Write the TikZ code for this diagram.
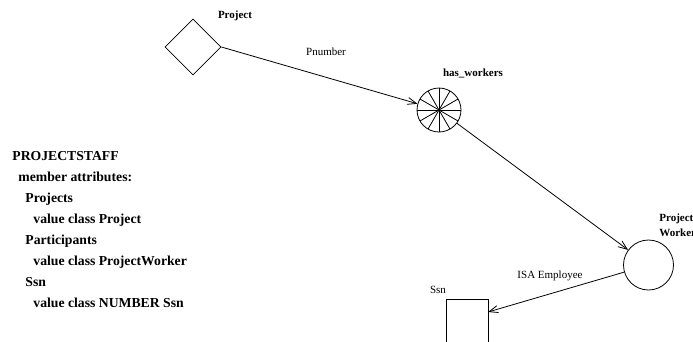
\documentclass[tikz,border=0pt]{standalone}
\usepackage{fontspec}
\setmainfont{Liberation Serif}
\usetikzlibrary{arrows.meta,shapes.geometric}
\begin{document}
\begin{tikzpicture}[x=1pt,y=-1pt,
  line width=0.8pt,
  conn/.style={draw,-{Straight Barb[length=9pt,width=7pt,line width=0.8pt]}},
  lbl/.style={inner sep=0pt,font=\fontsize{11}{13}\selectfont},
  blbl/.style={lbl,font=\fontsize{11}{13}\selectfont\bfseries},
  decl/.style={inner sep=0pt,anchor=base west,font=\fontsize{13.7}{16}\selectfont\bfseries},
  classnode/.style={draw,circle,inner sep=0pt,minimum size=50pt},
  assoc/.style={draw,circle,inner sep=0pt,minimum size=44pt},
  entity/.style={draw,diamond,inner sep=0pt,minimum width=56pt,minimum height=56pt}]
\useasboundingbox (0,0) rectangle (693,341);

% schema objects
\node[entity] (proj) at (193,47) {};
\node[assoc] (hw) at (439,110) {};
\foreach \a in {0,30,...,150}
  \draw (hw.center) -- ++(\a:22pt) (hw.center) -- ++(\a+180:22pt);
\node[classnode] (pw) at (648.5,265) {};
\node[draw,minimum width=42pt,minimum height=80pt,inner sep=0pt,anchor=north west] (ssnbox) at (446,299) {};
\coordinate (ssnin) at (488,312);

% labels
\node[blbl] (projlbl) at (235,16) {Project};
\node[blbl] (hwlbl) at (473,73) {has\_workers};
\node[blbl,anchor=west] (pwlbl1) at (659,219) {Project};
\node[blbl,anchor=west] (pwlbl2) at (659,233) {Worker};
\node[lbl] (ssnlbl) at (438,290) {Ssn};
\node[lbl] (pnum) at (326,52) {Pnumber};
\node[lbl] (isa) at (550,276) {ISA Employee};

% connectors
\draw[conn] (proj.east) -- (hw);
\draw[conn] (hw) -- (pw);
\draw[conn] (pw) -- (ssnin);

% class declaration
\node[decl] (d1) at (12,160) {PROJECTSTAFF};
\node[decl] (d2) at (18,181) {member attributes:};
\node[decl] (d3) at (25,202) {Projects};
\node[decl] (d4) at (33,223) {value class Project};
\node[decl] (d5) at (25,244) {Participants};
\node[decl] (d6) at (33,265) {value class ProjectWorker};
\node[decl] (d7) at (25,286) {Ssn};
\node[decl] (d8) at (33,307) {value class NUMBER Ssn};
\end{tikzpicture}
\end{document}
